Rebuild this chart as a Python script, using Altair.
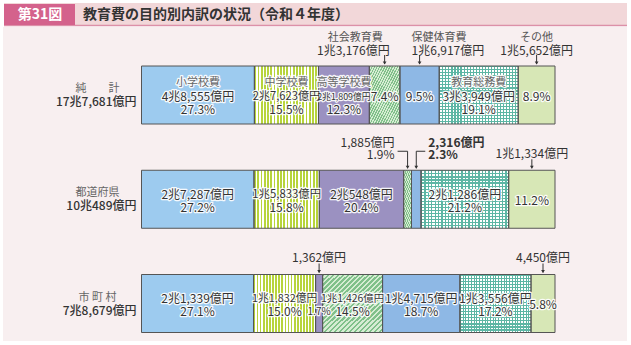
import altair as alt
import pandas as pd

FONT = "Noto Sans CJK JP"

# ---------------- data ----------------
regions = ["純計", "都道府県", "市町村"]
region_names = ["純　　計", "都道府県", "市 町 村"]
region_totals = ["17兆7,681億円", "10兆489億円", "7兆8,679億円"]
categories = ["小学校費", "中学校費", "高等学校費", "社会教育費", "保健体育費", "教育総務費", "その他"]

pct_total = [27.3, 15.5, 12.3, 7.4, 9.5, 19.1, 8.9]
pct_pref = [27.2, 15.8, 20.4, 1.9, 2.3, 21.2, 11.2]
pct_muni = [27.1, 15.0, 1.7, 14.5, 18.7, 17.2, 5.8]

amt_total = ["4兆8,555億円", "2兆7,623億円", "2兆1,809億円", "1兆3,176億円", "1兆6,917億円", "3兆3,949億円", "1兆5,652億円"]
amt_pref = ["2兆7,287億円", "1兆5,833億円", "2兆548億円", "1,885億円", "2,316億円", "2兆1,286億円", "1兆1,334億円"]
amt_muni = ["2兆1,339億円", "1兆1,832億円", "1,362億円", "1兆1,426億円", "1兆4,715億円", "1兆3,556億円", "4,450億円"]

# how each segment is labelled
mode_total = ["full", "full", "full", "pct", "pct", "full", "pct"]
mode_pref = ["two", "two", "two", "left", "right", "two", "pct"]
mode_muni = ["two", "two", "pctlow", "two", "two", "two", "pct"]

rows = []
for ri, (pcts, amts, modes) in enumerate(zip([pct_total, pct_pref, pct_muni],
                                             [amt_total, amt_pref, amt_muni],
                                             [mode_total, mode_pref, mode_muni])):
    start = 0.0
    for ci, cat in enumerate(categories):
        p = pcts[ci]
        rows.append(dict(ri=ri, region=regions[ri], cat=cat, ci=ci, pct=p,
                         start=start, end=start + p, mid=start + p / 2,
                         amt=amts[ci], pct_label=f"{p:.1f}%", mode=modes[ci]))
        start += p
df = pd.DataFrame(rows)
left_df = pd.DataFrame(dict(ri=[0, 1, 2], name=region_names, total=region_totals))

# ---------------- scales ----------------
xs = alt.Scale(domain=[0, 100], range=[141.5, 555])
ys = alt.Scale(domain=[0, 2], range=[95, 303.5])
Y = alt.Y("ri:Q", scale=ys, axis=None)
Y2 = alt.Y2("ri")
XM = alt.X("mid:Q", scale=xs, axis=None)


def stripes(c1, c2, n, frac, x2=1, y2=0):
    stops = []
    for i in range(n):
        a = i / n
        b = (i + frac) / n
        e = (i + 1) / n
        stops += [{"offset": a, "color": c1}, {"offset": b, "color": c1},
                  {"offset": b, "color": c2}, {"offset": e, "color": c2}]
    return {"gradient": "linear", "x1": 0, "y1": 0, "x2": x2, "y2": y2, "stops": stops}


fills = {
    "小学校費": ["#9dcbef"],
    "中学校費": [stripes("#b7d43c", "#ffffff", 20, 0.55)],
    "高等学校費": ["#9b91c1"],
    "社会教育費": [stripes("#80c08a", "#d6ecd3", 24, 0.5, 1, 1)],
    "保健体育費": ["#8eb8e5"],
    "教育総務費": [stripes("#5db6a4", "#ffffff", 26, 0.38),
                 stripes("#5db6a4", "rgba(255,255,255,0)", 19, 0.38, 0, 1)],
    "その他": ["#d7e7b6"],
}

one = pd.DataFrame({"a": [0]})
layers = []

# backgrounds / title
layers.append(alt.Chart(one).mark_rect(color="#f8eff0").encode(
    x=alt.value(3), x2=alt.value(627), y=alt.value(27), y2=alt.value(341)))
layers.append(alt.Chart(one).mark_rect(color="#f2d7d9").encode(
    x=alt.value(4), x2=alt.value(627), y=alt.value(3), y2=alt.value(25)))
layers.append(alt.Chart(one).mark_rule(color="#dc90a8", strokeWidth=1.5).encode(
    x=alt.value(4), x2=alt.value(627), y=alt.value(25.5)))
layers.append(alt.Chart(one).mark_rect(color="#d4628c").encode(
    x=alt.value(4), x2=alt.value(75), y=alt.value(4), y2=alt.value(25)))
layers.append(alt.Chart(one).mark_text(text="第31図", font=FONT, fontSize=14, fontWeight="bold",
                                       color="white", align="center", baseline="middle").encode(
    x=alt.value(40), y=alt.value(15)))
layers.append(alt.Chart(one).mark_text(text="教育費の目的別内訳の状況（令和４年度）", font=FONT, fontSize=14,
                                       fontWeight="bold", color="#333333", align="left",
                                       baseline="middle").encode(
    x=alt.value(83), y=alt.value(15)))

# bars
for cat in categories:
    for f in fills[cat]:
        layers.append(alt.Chart(df).transform_filter(alt.datum.cat == cat).mark_rect(
            fill=f, yOffset=-29, y2Offset=29).encode(
            x=alt.X("start:Q", scale=xs, axis=None), x2="end", y=Y, y2=Y2))
layers.append(alt.Chart(df).mark_rect(fillOpacity=0, stroke="#555555", strokeWidth=1,
                                      yOffset=-29, y2Offset=29).encode(
    x=alt.X("start:Q", scale=xs, axis=None), x2="end", y=Y, y2=Y2))


def txt(pred, field, dy, color="#333333", size=12, size_expr=None, weight="normal",
        align="center", dx=0, data=None, x=None, halo=False):
    src = df if data is None else data
    base = alt.Chart(src).transform_filter(pred)
    enc = dict(x=XM if x is None else x, y=Y, text=f"{field}:N")
    if size_expr is not None:
        base = base.transform_calculate(fs=size_expr)
        enc["size"] = alt.Size("fs:Q", scale=None, legend=None)
    kw = dict(font=FONT, fontSize=size, fontWeight=weight, align=align, baseline="middle", dy=dy, dx=dx)
    out = []
    if halo:
        out.append(base.mark_text(fill="white", stroke="white", strokeWidth=2.5, strokeJoin="round",
                                  opacity=0.9, **kw).encode(**enc))
    out.append(base.mark_text(fill=color, **kw).encode(**enc))
    return out


fs_amt = "min(12, datum.pct * 0.72)"
m = alt.datum.mode
# full (name / amount / pct)
layers += txt(m == "full", "cat", -12.5, color="#666666", size=11, halo=True)
layers += txt(m == "full", "amt", 1.5, size_expr=fs_amt, halo=True)
layers += txt(m == "full", "pct_label", 14.5, halo=True)
# two lines (amount / pct)
layers += txt(m == "two", "amt", -4.5, size_expr=fs_amt, halo=True)
layers += txt(m == "two", "pct_label", 8.5, halo=True)
# pct only
layers += txt(m == "pct", "pct_label", 1.5, halo=True)
layers += txt(m == "pctlow", "pct_label", 8.5, size=10, halo=True)

# arrows for above labels
above = alt.FieldOneOfPredicate(field="mode", oneOf=["pct", "pctlow"])
layers.append(alt.Chart(df).transform_filter(above).mark_rule(
    color="#333333", strokeWidth=1, yOffset=-40, y2Offset=-31).encode(x=XM, y=Y, y2=Y2))
ext = alt.FieldOneOfPredicate(field="mode", oneOf=["pct", "pctlow", "left", "right"])
layers.append(alt.Chart(df).transform_filter(ext).mark_point(
    shape="triangle-down", filled=True, size=14, color="#333333", opacity=1, yOffset=-32).encode(x=XM, y=Y))

# above labels, row 0 (name + amount)
row0 = alt.datum.ri == 0
rows12 = alt.datum.ri > 0
for cat, align, dx_name, dx_amt in [("社会教育費", "right", -2, 5),
                                     ("保健体育費", "left", -8, -8),
                                     ("その他", "center", 0, 0)]:
    pred = (row0) & (alt.datum.cat == cat)
    layers += txt(pred, "cat", -57.5, color="#555555", size=11, align=align, dx=dx_name)
    layers += txt(pred, "amt", -44.5, size=12, align=align, dx=dx_amt)
# above labels rows 1-2 (amount only)
layers += txt(rows12 & ((m == "pct") | (m == "pctlow")), "amt", -45.5, size=12)

# external bracket labels (prefectures)
layers += txt(m == "left", "amt", -56.5, size=12, align="right", dx=-13)
layers += txt(m == "left", "pct_label", -44.5, size=12, align="right", dx=-13)
layers += txt(m == "right", "amt", -56.5, size=12, weight="bold", align="left", dx=12)
layers += txt(m == "right", "pct_label", -44.5, size=12, weight="bold", align="left", dx=12)
layers.append(alt.Chart(df).transform_filter(m == "left").mark_rule(
    color="#333333", strokeWidth=1, xOffset=-10, yOffset=-48, y2Offset=-48).encode(
    x=XM, x2="mid", y=Y, y2=Y2))
layers.append(alt.Chart(df).transform_filter(m == "right").mark_rule(
    color="#333333", strokeWidth=1, x2Offset=9, yOffset=-48, y2Offset=-48).encode(
    x=XM, x2="mid", y=Y, y2=Y2))
layers.append(alt.Chart(df).transform_filter((m == "left") | (m == "right")).mark_rule(
    color="#333333", strokeWidth=1, yOffset=-48, y2Offset=-31).encode(x=XM, y=Y, y2=Y2))

# left region labels
layers += txt(alt.datum.ri >= 0, "name", -6, color="#666666", size=11, align="center", dx=-44,
              data=left_df, x=alt.X(datum=0, scale=xs, axis=None))
layers += txt(alt.datum.ri >= 0, "total", 7, color="#333333", size=12, weight=500, align="right", dx=-5,
              data=left_df, x=alt.X(datum=0, scale=xs, axis=None))

chart = alt.layer(*layers).properties(
    width=631, height=345, padding=0, autosize="none", background="white"
).configure_view(strokeWidth=0)

chart.save("out.html", embed_options={"renderer": "svg", "actions": False})
